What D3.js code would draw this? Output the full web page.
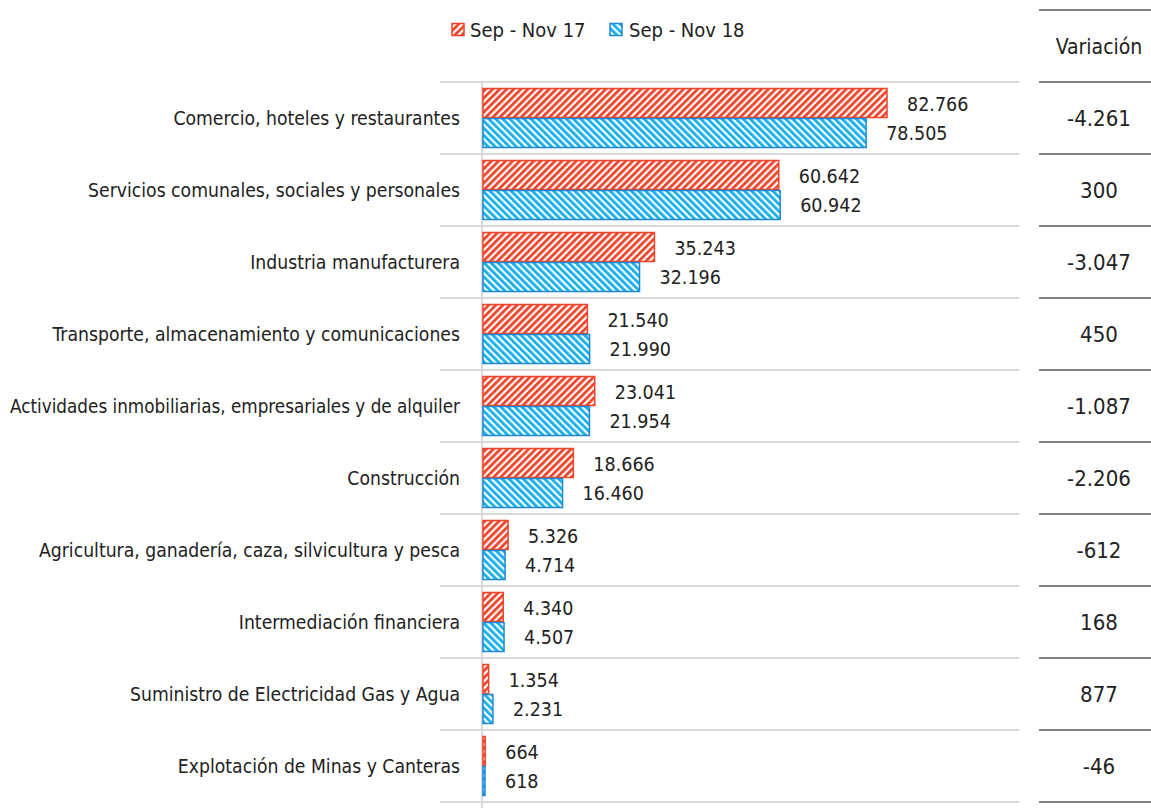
<!DOCTYPE html>
<html><head><meta charset="utf-8">
<script src="https://cdn.jsdelivr.net/npm/d3@7"></script>
<style>
body{margin:0;background:#fff;}
text{font-family:"DejaVu Sans Condensed","DejaVu Sans",sans-serif;font-stretch:condensed;fill:#222;}
</style></head><body>
<svg id="c" width="1151" height="808"></svg>
<script>
const categories = ["Comercio, hoteles y restaurantes","Servicios comunales, sociales y personales","Industria manufacturera","Transporte, almacenamiento y comunicaciones","Actividades inmobiliarias, empresariales y de alquiler","Construcción","Agricultura, ganadería, caza, silvicultura y pesca","Intermediación financiera","Suministro de Electricidad Gas y Agua","Explotación de Minas y Canteras"];
const seriesNames = ["Sep - Nov 17","Sep - Nov 18"];
const values17 = [82766,60642,35243,21540,23041,18666,5326,4340,1354,664];
const values18 = [78505,60942,32196,21990,21954,16460,4714,4507,2231,618];
const variacion = ["-4.261","300","-3.047","450","-1.087","-2.206","-612","168","877","-46"];

const svg = d3.select("#c");
const defs = svg.append("defs");
function pat(id, color, dir){
  const p = defs.append("pattern").attr("id",id).attr("patternUnits","userSpaceOnUse")
    .attr("width",5).attr("height",5).attr("patternTransform","rotate("+(dir*45)+")");
  p.append("rect").attr("width",5).attr("height",5).attr("fill","#fff");
  p.append("rect").attr("width",2.8).attr("height",5).attr("fill",color);
}
pat("pr","#f0442a",1);
pat("pb","#14b0ea",-1);
const colors = [{fill:"url(#pr)",stroke:"#f0442a"},{fill:"url(#pb)",stroke:"#1e88d6"}];

const x0 = 482, yTop = 82, yBot = 802;
const x = d3.scaleLinear().domain([0,82766]).range([x0,887]);
const y = d3.scaleBand().domain(categories).range([yTop,yBot]).paddingInner(0).paddingOuter(0);
const inner = d3.scaleBand().domain([0,1]).range([0,y.bandwidth()]).paddingOuter(0.2).paddingInner(0);

const bounds = categories.map(c=>y(c)).concat([yBot]);
svg.append("g").selectAll("line").data(bounds).join("line")
  .attr("x1",440).attr("x2",1019).attr("y1",d=>d).attr("y2",d=>d)
  .attr("stroke","#d9d9d9").attr("stroke-width",2);
svg.append("line").attr("x1",x0).attr("x2",x0).attr("y1",yTop).attr("y2",808)
  .attr("stroke","#d9d9d9").attr("stroke-width",2);

const fmt = v => d3.format(",")(v).replace(/,/g,".");
[values17, values18].forEach((vals,si)=>{
  const g = svg.append("g");
  g.selectAll("rect").data(categories).join("rect")
    .attr("x",x0+1).attr("y",(c)=>y(c)+inner(si)+0.5)
    .attr("width",(c,i)=>Math.max(1,x(vals[i])-x0-1)).attr("height",inner.bandwidth()-1)
    .attr("fill",colors[si].fill).attr("stroke",colors[si].stroke).attr("stroke-width",1.5);
  g.selectAll("text").data(categories).join("text")
    .attr("x",(c,i)=>x(vals[i])+20).attr("y",(c)=>y(c)+inner(si)+inner.bandwidth()/2 + (si===0?1:0))
    .attr("dy","0.35em").attr("font-size",19.5).text((c,i)=>fmt(vals[i]));
});

svg.append("g").selectAll("text").data(categories).join("text")
  .attr("x",460).attr("y",c=>y(c)+y.bandwidth()/2).attr("dy","0.35em")
  .attr("text-anchor","end").attr("font-size",19.2).text(c=>c)
  .each(function(){
    const w = this.getComputedTextLength();
    if (w > 450) d3.select(this).attr("textLength",450).attr("lengthAdjust","spacingAndGlyphs");
  });

const leg = [{x:452,tx:470},{x:610,tx:629}];
seriesNames.forEach((n,i)=>{
  svg.append("rect").attr("x",leg[i].x).attr("y",23.5).attr("width",12).attr("height",12)
    .attr("fill",colors[i].fill).attr("stroke",colors[i].stroke).attr("stroke-width",1.5);
  svg.append("text").attr("x",leg[i].tx).attr("y",30).attr("dy","0.35em").attr("font-size",20).text(n);
});

const tx1 = 1039, tx2 = 1151, tcx = 1099;
const tlines = [10].concat(bounds);
svg.append("g").selectAll("line").data(tlines).join("line")
  .attr("x1",tx1).attr("x2",tx2).attr("y1",d=>d).attr("y2",d=>d)
  .attr("stroke","#808080").attr("stroke-width",2);
svg.append("text").attr("x",tcx).attr("y",47).attr("dy","0.35em").attr("text-anchor","middle")
  .attr("font-size",21).text("Variación");
svg.append("g").selectAll("text").data(categories).join("text")
  .attr("x",tcx).attr("y",c=>y(c)+y.bandwidth()/2).attr("dy","0.35em").attr("text-anchor","middle")
  .attr("font-size",22).text((c,i)=>variacion[i]);
</script></body></html>
